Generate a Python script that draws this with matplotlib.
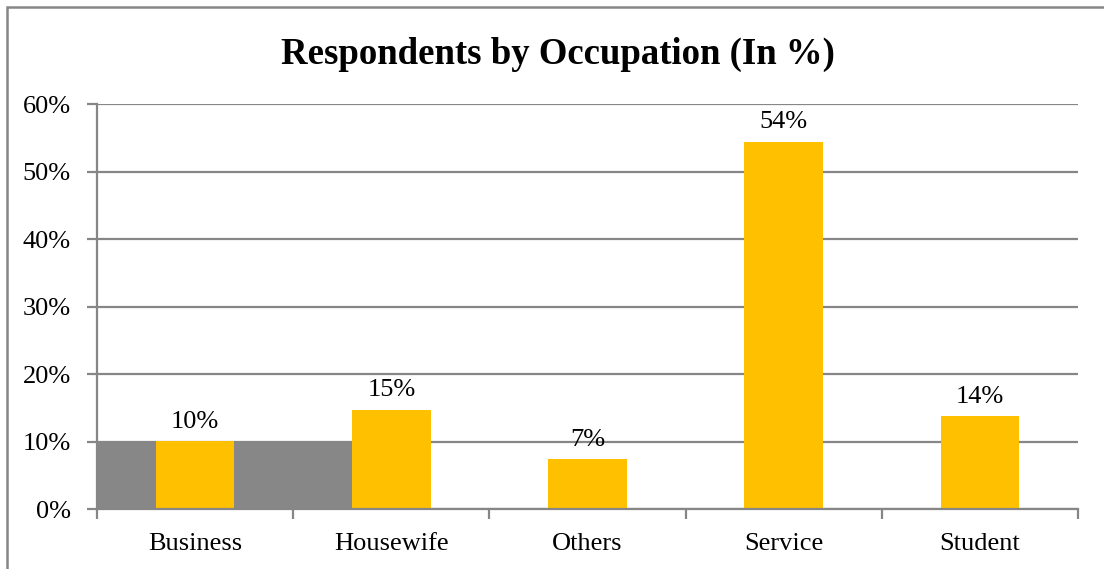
import matplotlib.pyplot as plt
from matplotlib.patches import Rectangle

occupations = ['Business', 'Housewife', 'Others', 'Service', 'Student']
share = [10.1, 14.7, 7.4, 54.4, 13.8]
y_ticks = [0, 10, 20, 30, 40, 50, 60]
band_level = 10  # grey band behind the first two categories
band_span = (-0.5, 0.8)

plt.rcParams['font.family'] = ['Liberation Serif', 'DejaVu Serif']

fig = plt.figure(figsize=(11.04, 5.69), dpi=100)
ax = fig.add_axes([0.0879, 0.1054, 0.8885, 0.7118])

grid_col = '#868686'
x = list(range(len(occupations)))

# grey band
ax.fill_between(band_span, 0, band_level, color='#878787', lw=0, zorder=1)

bars = ax.bar(x, share, width=0.4, color='#FFC000', zorder=2)
for xi, v in zip(x, share):
    ax.annotate('%.0f%%' % v, (xi, v), xytext=(0, 6), textcoords='offset points',
                ha='center', va='bottom', fontsize=19)

ax.set_xlim(-0.5, len(occupations) - 0.5)
ax.set_ylim(0, 60)
ax.set_yticks(y_ticks)
ax.set_yticklabels(['%d%%' % t for t in y_ticks], fontsize=19)
ax.yaxis.grid(True, color=grid_col, lw=1.6, zorder=0)
ax.set_axisbelow(True)

ax.set_xticks([i - 0.5 for i in range(len(occupations) + 1)])
ax.set_xticklabels([])
ax.set_xticks(x, minor=True)
ax.set_xticklabels(occupations, minor=True, fontsize=19)
ax.tick_params(axis='x', which='minor', length=0, pad=17.5)
ax.tick_params(axis='both', which='major', length=7, width=1.6, color=grid_col, direction='out')
ax.tick_params(axis='y', pad=12)

for side in ['top', 'right']:
    ax.spines[side].set_visible(False)
for side in ['left', 'bottom']:
    ax.spines[side].set_color(grid_col)
    ax.spines[side].set_linewidth(1.6)

fig.text(0.505, 0.9035, 'Respondents by Occupation (In %)', ha='center', va='center',
         fontsize=26.5, fontweight='bold')

# outer frame of the chart
fig.patches.append(Rectangle((7 / 1104, -0.1), 1.2, 1.1 - 7 / 569,
                             transform=fig.transFigure, fill=False,
                             edgecolor='#868686', lw=1.8))

fig.savefig('out.png', dpi=100)
